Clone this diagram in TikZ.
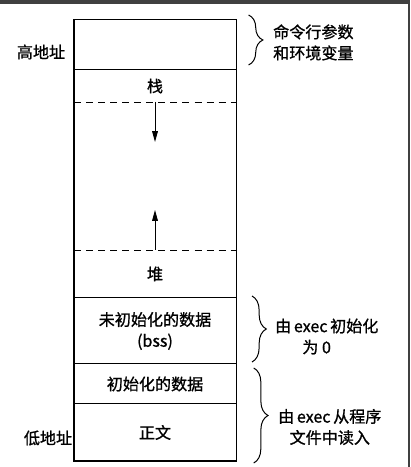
\documentclass[tikz,border=0pt]{standalone}
\usepackage{fontspec}
\setmainfont{Noto Sans CJK SC}[FakeBold=1]
\usetikzlibrary{positioning}
\usetikzlibrary{arrows.meta}
\usetikzlibrary{decorations.pathreplacing}

\tikzset{
  seg/.style={minimum width=5.67cm, inner sep=0pt, outer sep=0pt, line width=1pt},
  gapline/.style={dash pattern=on 7pt off 5pt, line width=0.9pt},
  growarrow/.style={-{Triangle[length=3.8mm,width=2mm]}, line width=0.9pt},
  brc/.style={decorate, decoration={brace, amplitude=0.5cm}, line width=1pt},
  note/.style={inner sep=0pt},
}

\begin{document}
\begin{tikzpicture}[font=\fontsize{16}{21}\selectfont]
  \useasboundingbox (0,0) rectangle (14.35,16.345);
  \fill[black!75] (0,16.205) rectangle (14.35,16.345);
  \fill[black!75] (14.29,0) rectangle (14.35,16.345);
  % segments, high to low
  \node[seg, draw, minimum height=1.75cm] (args) at (5.425cm, 14.77cm) {};
  \node[seg, minimum height=1.12cm, below=0pt of args] (stack) {栈};
  \node[seg, minimum height=5.18cm, below=0pt of stack] (free) {};
  \node[seg, minimum height=1.68cm, below=0pt of free] (heap) {堆};
  \node[seg, draw, minimum height=2.31cm, below=0pt of heap, align=center] (bss) {未初始化的数据\\(bss)};
  \node[seg, draw, minimum height=1.4cm, below=0pt of bss] (data) {初始化的数据};
  \node[seg, draw, minimum height=1.995cm, below=0pt of data] (text) {正文};
  \draw[line width=1pt] (args.south west) -- (heap.south west);
  \draw[line width=1pt] (args.south east) -- (heap.south east);
  \draw[gapline] (stack.south west) -- (stack.south east);
  \draw[gapline] (heap.north west) -- (heap.north east);
  \coordinate (down) at ([yshift=-1.4cm]stack.south);
  \coordinate (up) at ([yshift=1.4cm]heap.north);
  \draw[growarrow] (stack.south) -- (down);
  \draw[growarrow] (heap.north) -- (up);
  % addresses
  \node (high) at (1.435cm, 14.525cm) {高地址};
  \node (low) at (1.68cm, 1.015cm) {低地址};
  % braces
  \coordinate (b1a) at (8.7cm, 15.82cm);
  \coordinate (b1b) at (8.7cm, 14.07cm);
  \coordinate (b2a) at (8.82cm, 5.985cm);
  \coordinate (b2b) at (8.82cm, 3.675cm);
  \coordinate (b3a) at (8.88cm, 3.465cm);
  \coordinate (b3b) at (8.88cm, 0.14cm);
  \draw[brc] (b1a) -- (b1b);
  \draw[brc] (b2a) -- (b2b);
  \draw[brc] (b3a) -- (b3b);
  \node[note, anchor=west, align=center] (argnote) at (9.555cm, 14.86cm) {命令行参数\\和环境变量};
  \node[note, anchor=west, align=left] (bssnote) at (9.625cm, 4.5675cm) {由\,exec\,初始化\\\hspace*{0.95cm}为 0};
  \node[note, anchor=west, align=center] (loadnote) at (9.73cm, 1.4cm) {由\,exec\,从程序\\文件中读入};
\end{tikzpicture}
\end{document}
